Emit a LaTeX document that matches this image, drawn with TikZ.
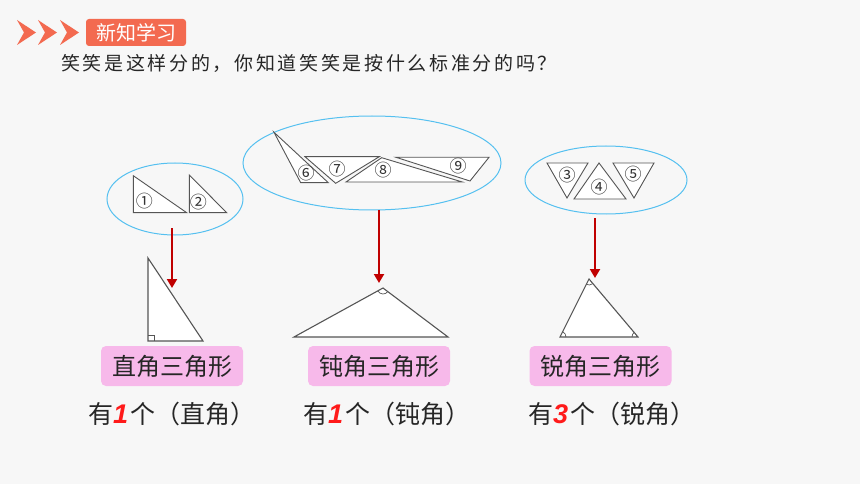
\documentclass[tikz,border=0pt]{standalone}
\usepackage{fontspec}
\newfontfamily\cjk{Noto Sans CJK SC}
\newfontfamily\cjkq[LetterSpace=14]{Noto Sans CJK SC}
\newfontfamily\numfont{Liberation Sans}
\usetikzlibrary{angles,arrows.meta,shapes.geometric}
\definecolor{bg}{HTML}{F7F7F7}
\definecolor{coral}{HTML}{F36A50}
\definecolor{sky}{HTML}{55C0F0}
\definecolor{arrowred}{HTML}{C00000}
\definecolor{pinkbox}{HTML}{F7B9EA}
\definecolor{edge}{HTML}{555555}
\definecolor{numred}{HTML}{FF1A1A}
\tikzset{
  chev/.style={fill=coral, draw=none},
  tagbox/.style={fill=coral, rounded corners=3pt, minimum width=100pt, minimum height=27pt, inner sep=0pt, text=white, font=\cjk\fontsize{20}{20}\selectfont},
  grp/.style={ellipse, draw=sky, line width=1pt, inner sep=0pt},
  tri/.style={draw=edge, fill=white, line width=0.9pt, line join=miter},
  bigtri/.style={draw=edge, fill=white, line width=1.1pt, line join=miter},
  lbl/.style={inner sep=0pt, text=black!80, font=\cjk\fontsize{17}{17}\selectfont},
  redarrow/.style={draw=arrowred, line width=2pt, -{Triangle[length=9pt,width=10pt]}},
  namebox/.style={fill=pinkbox, rounded corners=5pt, minimum width=142pt, minimum height=40pt, inner sep=0pt, text=black!85, font=\cjk\fontsize{24}{24}\selectfont},
  countline/.style={anchor=west, inner sep=0pt, text=black!85, font=\cjk\fontsize{25}{25}\selectfont},
  angmark/.style={draw=edge, line width=0.7pt, angle radius=6pt}
}
\newcommand{\rednum}[1]{{\color{numred}\numfont\bfseries\itshape\fontsize{27}{27}\selectfont #1\kern2pt}}
\begin{document}
\begin{tikzpicture}[x=1pt,y=-1pt]
\fill[bg] (0,0) rectangle (860,484);
\useasboundingbox (0,0) rectangle (860,484);

% header chevrons
\foreach \x in {17,38,60}{
  \fill[chev] (\x,20) -- (\x+19,32.5) -- (\x,45) -- (\x+7,32.5) -- cycle;
}
\node[tagbox] (tag) at (136,32.5) {新知学习};
\node[anchor=west, inner sep=0pt, text=black!85, font=\cjkq\fontsize{19}{19}\selectfont] (q) at (61,63) {笑笑是这样分的，你知道笑笑是按什么标准分的吗？};

% group ellipses
\node[grp, minimum width=136pt, minimum height=72pt] (g1) at (175,199) {};
\node[grp, minimum width=258pt, minimum height=94pt] (g2) at (372,163) {};
\node[grp, minimum width=162pt, minimum height=68pt] (g3) at (606,180) {};

% group 1 triangles
\draw[tri] (133.3,175.7) -- (133.3,212.7) -- (186.7,212.7) -- cycle;
\draw[tri] (189.3,175) -- (189.3,212.7) -- (226.7,212.7) -- cycle;
\node[lbl] (l1) at (144.3,201) {①};
\node[lbl] (l2) at (198.3,201.7) {②};

% group 2 triangles
\draw[tri] (274,132.3) -- (300.7,182.7) -- (328.3,182.7) -- cycle;
\draw[tri] (305,156.7) -- (379.3,156.7) -- (335.7,183.3) -- cycle;
\draw[tri] (381.7,157.7) -- (346,182) -- (462.3,182) -- cycle;
\draw[tri] (396,157.3) -- (489,157.3) -- (470,181) -- cycle;
\node[lbl] (l6) at (306,173) {⑥};
\node[lbl] (l7) at (337,169) {⑦};
\node[lbl] (l8) at (383,170) {⑧};
\node[lbl] (l9) at (458,166) {⑨};

% group 3 triangles
\draw[tri] (547,163) -- (588,163) -- (567,198) -- cycle;
\draw[tri] (574,199) -- (626,199) -- (599,163) -- cycle;
\draw[tri] (613,163) -- (654,163) -- (634,198) -- cycle;
\node[lbl] (l3) at (567,175) {③};
\node[lbl] (l4) at (599,187) {④};
\node[lbl] (l5) at (633,174) {⑤};

% big triangles
\coordinate (rA) at (148,258);
\coordinate (rB) at (148,341);
\coordinate (rC) at (203,341);
\draw[bigtri] (rA) -- (rB) -- (rC) -- cycle;
\draw[draw=edge, line width=0.7pt] (148,335) -- (154,335) -- (154,341);

\coordinate (oL) at (294,337);
\coordinate (oT) at (383,288);
\coordinate (oR) at (448,337);
\draw[bigtri] (oL) -- (oT) -- (oR) -- cycle;
\pic[angmark] {angle = oL--oT--oR};

\coordinate (aL) at (560,337);
\coordinate (aT) at (589,279);
\coordinate (aR) at (638,337);
\draw[bigtri] (aL) -- (aT) -- (aR) -- cycle;
\pic[angmark] {angle = aL--aT--aR};
\pic[angmark] {angle = aR--aL--aT};
\pic[angmark] {angle = aT--aR--aL};

% arrows
\coordinate (s1) at (172,228);
\coordinate (e1) at (172,288);
\coordinate (s2) at (379,210);
\coordinate (e2) at (379,283);
\coordinate (s3) at (595,218);
\coordinate (e3) at (595,278);
\draw[redarrow] (s1) -- (e1);
\draw[redarrow] (s2) -- (e2);
\draw[redarrow] (s3) -- (e3);

% name boxes
\node[namebox] (n1) at (172,366) {直角三角形};
\node[namebox] (n2) at (379,366) {钝角三角形};
\node[namebox] (n3) at (600.5,366) {锐角三角形};

% count lines
\node[countline] (c1) at (88,414) {有\rednum{1}个（直角）};
\node[countline] (c2) at (303,414) {有\rednum{1}个（钝角）};
\node[countline] (c3) at (528,414) {有\rednum{3}个（锐角）};
\end{tikzpicture}
\end{document}
